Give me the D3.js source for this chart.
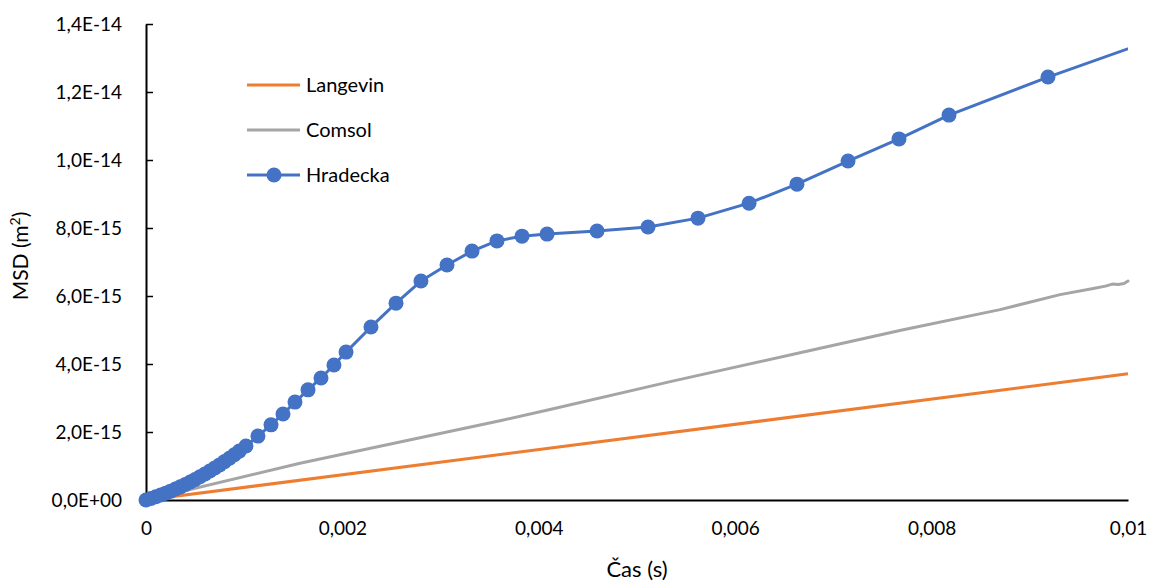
<!DOCTYPE html>
<html>
<head>
<meta charset="utf-8">
<script src="https://cdn.jsdelivr.net/npm/d3@7"></script>
<style>
  html, body { margin: 0; padding: 0; background: #fff; }
  svg text { font-family: Lato, "Open Sans", "Noto Sans", sans-serif; fill: #000; }
</style>
</head>
<body>
<svg id="chart" width="1152" height="582"></svg>
<script>
// Time values (s) and MSD values (m^2) for each series
const langevinTime = [0, 0.01];
const langevinMSD = [0, 3.71e-15];

const comsolTime = [0, 0.001568, 0.00279, 0.003605, 0.004114, 0.00535, 0.00666, 0.0077, 0.008697, 0.009308, 0.00966, 0.00977, 0.00984, 0.0099, 0.00996, 0.01];
const comsolMSD = [0, 1.08e-15, 1.83e-15, 2.33e-15, 2.66e-15, 3.49e-15, 4.33e-15, 5.00e-15, 5.60e-15, 6.04e-15, 6.23e-15, 6.29e-15, 6.35e-15, 6.34e-15, 6.37e-15, 6.44e-15];

const hradeckaTime = [
  0, 0.00005, 0.0001, 0.00015, 0.0002, 0.00025, 0.0003, 0.00035, 0.0004, 0.00045,
  0.0005, 0.00055, 0.0006, 0.00065, 0.0007, 0.00075, 0.0008, 0.00085, 0.0009, 0.00095,
  0.001018, 0.00114, 0.001273, 0.001395, 0.001517, 0.00165, 0.001782, 0.001914, 0.002037,
  0.002291, 0.002546, 0.0028, 0.003065, 0.00332, 0.003574, 0.003829, 0.004084,
  0.004593, 0.005112, 0.005621, 0.006141, 0.006629, 0.007149, 0.007668, 0.008177, 0.009185, 0.010193
];
const hradeckaMSD = [
  0, 4.5e-17, 9.4e-17, 1.46e-16, 2.01e-16, 2.60e-16, 3.22e-16, 3.87e-16, 4.56e-16, 5.28e-16,
  6.04e-16, 6.83e-16, 7.66e-16, 8.51e-16, 9.41e-16, 1.033e-15, 1.129e-15, 1.228e-15, 1.331e-15, 1.438e-15,
  1.59e-15, 1.88e-15, 2.21e-15, 2.53e-15, 2.88e-15, 3.24e-15, 3.59e-15, 3.97e-15, 4.35e-15,
  5.09e-15, 5.79e-15, 6.44e-15, 6.91e-15, 7.32e-15, 7.62e-15, 7.76e-15, 7.82e-15,
  7.91e-15, 8.03e-15, 8.29e-15, 8.73e-15, 9.29e-15, 9.97e-15, 1.062e-14, 1.132e-14, 1.244e-14, 1.347e-14
];

const xTicks = [0, 0.002, 0.004, 0.006, 0.008, 0.01];
const xTickLabels = ["0", "0,002", "0,004", "0,006", "0,008", "0,01"];
const yTicks = [0, 2e-15, 4e-15, 6e-15, 8e-15, 1e-14, 1.2e-14, 1.4e-14];
const yTickLabels = ["0,0E+00", "2,0E-15", "4,0E-15", "6,0E-15", "8,0E-15", "1,0E-14", "1,2E-14", "1,4E-14"];

const seriesNames = ["Langevin", "Comsol", "Hradecka"];
const seriesColors = ["#ED7D31", "#A5A5A5", "#4472C4"];

const svg = d3.select("#chart");
const plot = { left: 146, right: 1128, top: 24, bottom: 500 };

const x = d3.scaleLinear().domain([0, 0.01]).range([plot.left, plot.right]);
const y = d3.scaleLinear().domain([0, 1.4e-14]).range([plot.bottom, plot.top]);

const zip = (ts, vs) => ts.map((t, i) => ({ t, v: vs[i] }));
const langevin = zip(langevinTime, langevinMSD);
const comsol = zip(comsolTime, comsolMSD);
const hradecka = zip(hradeckaTime, hradeckaMSD);

const line = d3.line().x(d => x(d.t)).y(d => y(d.v));

// clip lines at the right end of the time axis
svg.append("defs").append("clipPath").attr("id", "plotClip")
  .append("rect").attr("x", 0).attr("y", 0).attr("width", plot.right).attr("height", 582);

// axes
const yAxis = d3.axisLeft(y).tickValues(yTicks).tickSize(0).tickPadding(24)
  .tickFormat((d, i) => yTickLabels[i]);
const yG = svg.append("g").attr("transform", `translate(${plot.left},0)`).call(yAxis);
yG.select(".domain").attr("stroke", "#000").attr("stroke-width", 2);
yG.selectAll("text").attr("font-size", 19).style("font-family", "Lato, sans-serif");
// inward tick marks
yG.selectAll(".tick").append("line").attr("x1", 0).attr("x2", 7).attr("stroke", "#000").attr("stroke-width", 1.5);

const xAxis = d3.axisBottom(x).tickValues(xTicks).tickSize(0).tickPadding(22)
  .tickFormat((d, i) => xTickLabels[i]);
const xG = svg.append("g").attr("transform", `translate(0,${plot.bottom})`).call(xAxis);
xG.select(".domain").attr("stroke", "#000").attr("stroke-width", 2);
xG.selectAll("text").attr("font-size", 19).style("font-family", "Lato, sans-serif");

// series lines
svg.append("path").datum(langevin).attr("d", line)
  .attr("fill", "none").attr("stroke", seriesColors[0]).attr("stroke-width", 3);
svg.append("path").datum(comsol).attr("d", line)
  .attr("fill", "none").attr("stroke", seriesColors[1]).attr("stroke-width", 3)
  .attr("stroke-linejoin", "round").attr("stroke-linecap", "round");
svg.append("path").datum(hradecka).attr("d", line).attr("clip-path", "url(#plotClip)")
  .attr("fill", "none").attr("stroke", seriesColors[2]).attr("stroke-width", 3)
  .attr("stroke-linejoin", "round");
svg.append("g").selectAll("circle").data(hradecka.filter(d => d.t <= 0.01)).join("circle")
  .attr("cx", d => x(d.t)).attr("cy", d => y(d.v)).attr("r", 7.5)
  .attr("fill", seriesColors[2]);

// axis titles
svg.append("text").attr("x", (plot.left + plot.right) / 2).attr("y", 577)
  .attr("text-anchor", "middle").attr("font-size", 22).text("Čas (s)");
svg.append("text").attr("transform", "translate(28,256) rotate(-90)")
  .attr("text-anchor", "middle").attr("font-size", 21)
  .append("tspan").text("MSD (m")
  .select(function () { return this.parentNode; })
  .append("tspan").attr("font-size", 14).attr("dy", -8).text("2")
  .select(function () { return this.parentNode; })
  .append("tspan").attr("dy", 8).text(")");

// legend
const legend = svg.append("g");
seriesNames.forEach((name, i) => {
  const ly = 85 + i * 45;
  legend.append("line").attr("x1", 247).attr("x2", 300).attr("y1", ly).attr("y2", ly)
    .attr("stroke", seriesColors[i]).attr("stroke-width", 3);
  if (name === "Hradecka") {
    legend.append("circle").attr("cx", 274).attr("cy", ly).attr("r", 7.5).attr("fill", seriesColors[i]);
  }
  legend.append("text").attr("x", 306).attr("y", ly).attr("dy", "0.35em")
    .attr("font-size", 20).text(name);
});
</script>
</body>
</html>
